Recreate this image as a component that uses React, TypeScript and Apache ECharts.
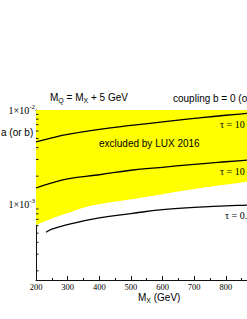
import React, { useEffect, useRef } from 'react';
import * as echarts from 'echarts';

// M_X (GeV)
const massBoundary = [200, 250, 300, 350, 400, 500, 600, 700, 800, 900, 1000];
// lower edge of the LUX 2016 excluded (yellow) region
const luxBoundary = [6.08e-4, 7.13e-4, 8.15e-4, 9.3e-4, 1.01e-3, 1.14e-3, 1.29e-3, 1.46e-3, 1.63e-3, 1.81e-3, 2.0e-3];

const massCurve = [200, 250, 300, 400, 500, 600, 700, 800, 900, 1000];
const tauTop = [4.6e-3, 5.07e-3, 5.52e-3, 6.24e-3, 6.87e-3, 7.48e-3, 8.14e-3, 8.8e-3, 9.41e-3, 1.0e-2];
const tauMid = [1.5e-3, 1.7e-3, 1.87e-3, 2.07e-3, 2.31e-3, 2.48e-3, 2.67e-3, 2.84e-3, 3.0e-3, 3.16e-3];

const massLow = [232, 250, 300, 400, 500, 600, 700, 800, 900, 1000];
const tauLow = [5.1e-4, 5.52e-4, 6.16e-4, 7.24e-4, 8.04e-4, 8.86e-4, 9.37e-4, 9.69e-4, 1.0e-3, 1.02e-3];

const yMinorTicks = [2e-4, 3e-4, 4e-4, 5e-4, 6e-4, 7e-4, 8e-4, 9e-4, 2e-3, 3e-3, 4e-3, 5e-3, 6e-3, 7e-3, 8e-3, 9e-3];

const SANS = 'Liberation Sans, Arial, sans-serif';
const SERIF = 'Liberation Serif, Times New Roman, serif';
const INK = '#111';

const zip = (xs: number[], ys: number[]) => xs.map((x, i) => [x, ys[i]]);

export default function App() {
  const ref = useRef<HTMLDivElement>(null);
  useEffect(() => {
    if (!ref.current) return;
    const chart = echarts.init(ref.current, null, { renderer: 'svg' });
    const tickLine = { lineStyle: { color: INK, width: 1 } };
    const txt = (left: number, top: number, text: string, font: string) => ({
      type: 'text', left, top, z: 100,
      style: { text, font, fill: '#000' },
    });
    chart.setOption({
      animation: false,
      backgroundColor: '#fff',
      grid: { left: 36, right: 11, top: 110, bottom: 39, containLabel: false, outerBoundsMode: 'none' },
      xAxis: [
        {
          type: 'value', min: 200, max: 1000, interval: 100, position: 'bottom',
          axisLine: { show: true, onZero: false, ...tickLine },
          axisTick: { show: true, inside: true, length: 4, ...tickLine },
          minorTick: { show: true, splitNumber: 2, length: 2, ...tickLine },
          splitLine: { show: false },
          axisLabel: { color: '#000', fontFamily: SERIF, fontSize: 8.5, margin: 2 },
        },
        {
          type: 'value', min: 200, max: 1000, interval: 100, position: 'top',
          axisLine: { show: true, onZero: false, ...tickLine },
          axisTick: { show: true, inside: true, length: 4, ...tickLine },
          minorTick: { show: true, splitNumber: 2, length: 2, ...tickLine },
          splitLine: { show: false },
          axisLabel: { show: false },
        },
      ],
      yAxis: [
        {
          type: 'log', logBase: 10, min: 1.6e-4, max: 1e-2, position: 'left',
          axisLine: { show: true, onZero: false, ...tickLine },
          axisTick: { show: true, inside: true, length: 4, ...tickLine },
          splitLine: { show: false },
          axisLabel: {
            showMinLabel: false,
            margin: 1,
            formatter: (v: number) => {
              const e = Math.round(Math.log10(v));
              if (Math.abs(v / Math.pow(10, e) - 1) > 1e-6) return '';
              return `{b|1×10}{s|${e}}`;
            },
            rich: {
              b: { fontFamily: SERIF, fontSize: 10, color: '#000' },
              s: { fontFamily: SERIF, fontSize: 7, color: '#000', padding: [0, 0, 7, 0] },
            },
          },
        },
        {
          type: 'log', logBase: 10, min: 1.6e-4, max: 1e-2, position: 'right',
          axisLine: { show: true, onZero: false, ...tickLine },
          axisTick: { show: true, inside: true, length: 4, ...tickLine },
          splitLine: { show: false },
          axisLabel: { show: false },
        },
      ],
      series: [
        {
          type: 'line', data: zip(massBoundary, luxBoundary), smooth: true, symbol: 'none',
          lineStyle: { width: 0, color: '#ffff00' },
          areaStyle: { color: '#ffff00', opacity: 1, origin: 'end' },
          z: 1,
        },
        {
          type: 'line', data: zip(massCurve, tauTop), smooth: true, symbol: 'none',
          lineStyle: { width: 1.3, color: '#000' }, z: 3,
        },
        {
          type: 'line', data: zip(massCurve, tauMid), smooth: true, symbol: 'none',
          lineStyle: { width: 1.3, color: '#000' }, z: 3,
        },
        {
          type: 'line', data: zip(massLow, tauLow), smooth: true, symbol: 'none',
          lineStyle: { width: 1.3, color: '#000' }, z: 3,
        },
        {
          type: 'custom', clip: false, z: 5,
          data: yMinorTicks.map((v) => [200, v]),
          renderItem: (params: any, api: any) => {
            const p = api.coord([api.value(0), api.value(1)]);
            return {
              type: 'line',
              shape: { x1: p[0], y1: p[1], x2: p[0] + 2.5, y2: p[1] },
              style: { stroke: INK, lineWidth: 1 },
            };
          },
        },
      ],
      graphic: [
        txt(1, 127, 'a (or b)', `10px ${SANS}`),
        {
          type: 'text', left: 50, top: 92, z: 100,
          style: {
            text: 'M{s|Q} = M{s|X} + 5 GeV',
            rich: { s: { fontSize: 7, fontFamily: SANS, padding: [6, 0, 0, 0] } },
            fontSize: 10, fontFamily: SANS, fill: '#000',
          },
        },
        txt(173, 93, 'coupling b = 0 (or a = 0)', `10px ${SANS}`),
        txt(99, 138, 'excluded by LUX 2016', `10px ${SANS}`),
        txt(220, 119, 'τ = 10', `10px ${SERIF}`),
        txt(220, 166, 'τ = 10', `10px ${SERIF}`),
        txt(225, 210, 'τ = 0.1', `10px ${SERIF}`),
        {
          type: 'text', left: 138, top: 292, z: 100,
          style: {
            text: 'M{s|X} (GeV)',
            rich: { s: { fontSize: 7, fontFamily: SANS, padding: [6, 0, 0, 0] } },
            fontSize: 10, fontFamily: SANS, fill: '#000',
          },
        },
      ],
    });
    return () => chart.dispose();
  }, []);
  return (
    <div style={{ position: 'fixed', left: 0, top: 0, width: 247, height: 319, overflow: 'hidden', background: '#fff' }}>
      <div ref={ref} style={{ width: 300, height: 319 }} />
    </div>
  );
}
